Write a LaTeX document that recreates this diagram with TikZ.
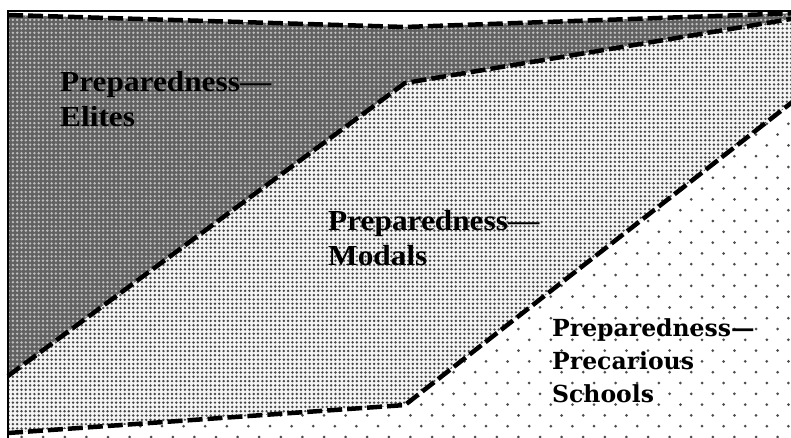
\documentclass[tikz,border=0pt]{standalone}
\usepackage{fontspec}
\setmainfont{Liberation Serif}
\newfontfamily\zonefont[FakeStretch=1.08]{Liberation Serif}
\newfontfamily\slabfont{DejaVu Serif}
\usetikzlibrary{patterns}
\pgfdeclarepatternformonly{tightdots}{\pgfqpoint{-1.4pt}{-1.4pt}}{\pgfqpoint{1.4pt}{1.4pt}}{\pgfqpoint{4.3pt}{4.3pt}}{
  \pgfpathcircle{\pgfqpoint{0pt}{0pt}}{1.35pt}\pgfusepath{fill}}
\pgfdeclarepatternformonly{sparsedots}{\pgfqpoint{-1.6pt}{-1.6pt}}{\pgfqpoint{12.5pt}{12.5pt}}{\pgfqpoint{21.6pt}{21.6pt}}{
  \pgfpathcircle{\pgfqpoint{0pt}{0pt}}{1.5pt}
  \pgfpathcircle{\pgfqpoint{10.8pt}{10.8pt}}{1.5pt}\pgfusepath{fill}}
\tikzset{
    elitezone/.style = {preaction={fill=black!62}, pattern=tightdots, pattern color=black!25},
    modalzone/.style = {preaction={fill=black!4}, pattern=tightdots, pattern color=black!72},
    precarzone/.style = {pattern=sparsedots, pattern color=black!70},
    rim/.style = {line width=4.5pt, dash pattern=on 15pt off 5pt},
    zonetext/.style = {anchor=north west, inner sep=0pt, align=left, font=\zonefont\bfseries\fontsize{29}{35.5}\selectfont},
    schooltext/.style = {anchor=north west, inner sep=0pt, align=left, font=\slabfont\bfseries\fontsize{23.5}{33}\selectfont},
}

\begin{document}
\begin{tikzpicture}[x=1pt,y=1pt]
\useasboundingbox (0,0) rectangle (791,437);
% corner points of the three bands
\coordinate (tl) at (8,422);   \coordinate (tm) at (405,410);  \coordinate (tr) at (800,424);
\coordinate (ml) at (8,61);    \coordinate (mm) at (405,354);  \coordinate (mr) at (800,419.5);
\coordinate (ll) at (8,4);     \coordinate (lm) at (405,32);   \coordinate (lr) at (800,341);
\coordinate (bl) at (8,-5);    \coordinate (br) at (800,-5);
% bands
\path[elitezone] (tl) -- (tm) -- (tr) -- (mr) -- (mm) -- (ml) -- cycle;
\path[modalzone] (ml) -- (mm) -- (mr) -- (lr) -- (lm) -- (ll) -- cycle;
\path[precarzone] (ll) -- (lm) -- (lr) -- (br) -- (bl) -- cycle;
% borders
\draw[rim] (tl) -- (tm) -- (tr);
\draw[rim] (ml) -- (mm) -- (mr);
\draw[rim] (ll) -- (lm) -- (lr);
\draw[line width=2.5pt] (8,-5) -- (8,426) -- (800,426);
% labels
\node (elites) [zonetext] at (60,366) {Preparedness—\\Elites};
\node (modals) [zonetext] at (328,227) {Preparedness—\\Modals};
\node (precar) [schooltext] at (552,119) {Preparedness—\\Precarious\\Schools};
\end{tikzpicture}
\end{document}
